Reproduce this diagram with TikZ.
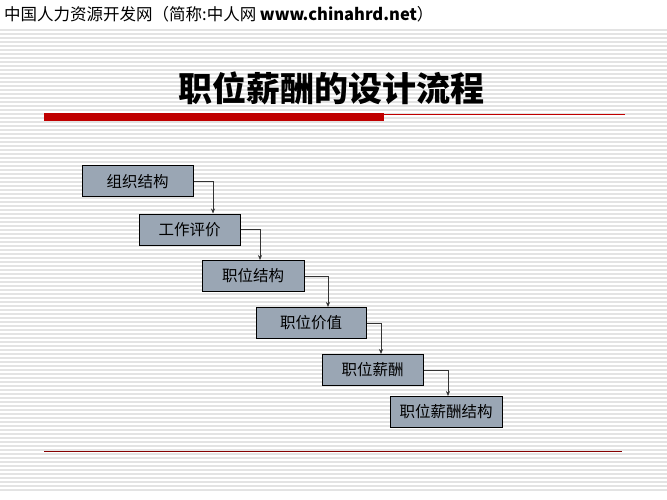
\documentclass[tikz,border=0pt]{standalone}
\usepackage{fontspec}
\newfontfamily\cjk{Noto Sans CJK SC}
\usetikzlibrary{arrows.meta}
\begin{document}
\begin{tikzpicture}[x=1pt,y=-1pt,
  stepbox/.style={draw=black,line width=1pt,fill=boxfill,minimum width=#1,minimum height=31,inner sep=0,font=\cjk\fontsize{15.5}{15.5}\selectfont},
  conn/.style={draw=black!80,line width=0.6pt,-{Stealth[length=5pt,width=4pt]}}]
\definecolor{boxfill}{HTML}{9AA6B4}
\definecolor{redc}{HTML}{C00000}
\useasboundingbox (0,0) rectangle (667,500);
\fill[white] (0,0) rectangle (667,500);
\foreach \y in {30,34,...,490} \draw[black!11,line width=1.2pt] (0,\y) -- (667,\y);
\node[anchor=west,inner sep=0,font=\cjk\fontsize{16.5}{16.5}\selectfont] (hdr) at (4,14) {中国人力资源开发网（简称:中人网 \textbf{www.chinahrd.net}）};
\node[font=\cjk\bfseries\fontsize{34}{34}\selectfont] (title) at (331,88) {职位薪酬的设计流程};
\fill[redc] (44,113) rectangle (384,121);
\draw[redc,line width=0.6pt] (384,114) -- (625,114);
\draw[redc!70!black,line width=0.6pt] (44,451) -- (622,451);
\node[stepbox=111] (b1) at (137.5,181.5) {组织结构};
\node[stepbox=101] (b2) at (189.5,229.5) {工作评价};
\node[stepbox=102] (b3) at (253,276) {职位结构};
\node[stepbox=110] (b4) at (311,323) {职位价值};
\node[stepbox=101] (b5) at (372.5,370) {职位薪酬};
\node[stepbox=112] (b6) at (446,412) {职位薪酬结构};
\draw[conn] (b1.east) -| (b2.north -| 213,0);
\draw[conn] (b2.east) -| (b3.north -| 260,0);
\draw[conn] (b3.east) -| (b4.north -| 328,0);
\draw[conn] (b4.east) -| (b5.north -| 381,0);
\draw[conn] (b5.east) -| (b6.north -| 448,0);
\end{tikzpicture}
\end{document}
